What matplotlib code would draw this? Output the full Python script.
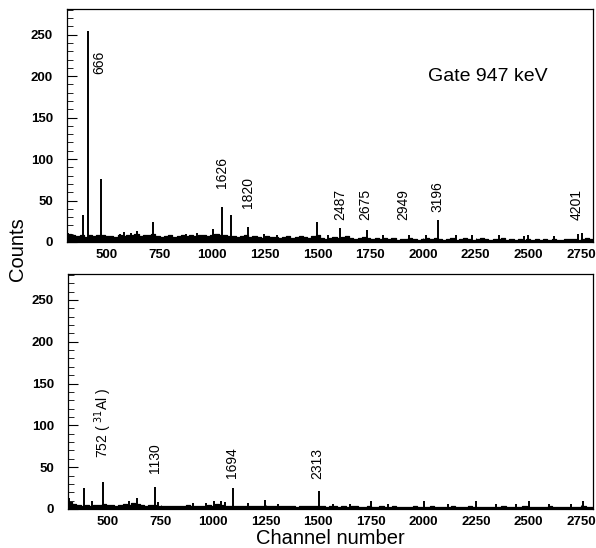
import numpy as np
import matplotlib
matplotlib.use('Agg')
import matplotlib.pyplot as plt
from matplotlib.ticker import MultipleLocator

plt.rcParams['font.family'] = ['Liberation Sans', 'DejaVu Sans']

# Spectrum background, 20-channel bins starting at channel 310
BIN_START = 310
BIN_WIDTH = 20

gate_bkg = [10, 8, 7, 9, 6, 8, 7, 9, 8, 7,
            7, 6, 8, 7, 9, 8, 10, 7, 8, 9,
            10, 7, 6, 7, 8, 6, 7, 8, 7, 8,
            7, 9, 8, 7, 8, 10, 9, 8, 7, 7,
            6, 7, 8, 6, 7, 6, 5, 7, 6, 6,
            5, 6, 7, 5, 6, 7, 6, 5, 7, 8,
            5, 4, 5, 6, 5, 6, 7, 5, 4, 5,
            6, 5, 4, 5, 4, 5, 4, 5, 3, 4,
            4, 5, 4, 3, 4, 5, 4, 5, 4, 3,
            4, 5, 3, 4, 5, 4, 3, 4, 5, 4,
            3, 4, 4, 5, 3, 4, 3, 4, 3, 4,
            3, 4, 3, 4, 3, 4, 3, 3, 4, 4,
            4, 3, 4, 5, 4]

other_bkg = [8, 6, 5, 4, 5, 4, 5, 5, 6, 5,
             5, 4, 5, 6, 5, 7, 6, 5, 4, 5,
             5, 4, 4, 3, 4, 4, 3, 4, 5, 4,
             4, 3, 4, 5, 4, 6, 5, 4, 3, 4,
             4, 3, 3, 4, 3, 4, 3, 3, 4, 3,
             3, 3, 4, 3, 2, 3, 3, 4, 3, 3,
             3, 2, 3, 3, 2, 3, 2, 3, 3, 2,
             2, 3, 2, 2, 3, 2, 2, 3, 2, 2,
             2, 2, 3, 2, 2, 2, 3, 2, 2, 2,
             2, 3, 2, 2, 2, 3, 2, 2, 2, 2,
             2, 2, 2, 3, 2, 2, 2, 2, 3, 2,
             2, 2, 2, 2, 3, 2, 2, 2, 2, 2,
             2, 2, 3, 2, 2]

# Peaks (channel, counts)
gate_peak_ch = [316, 385, 411, 472, 562, 582, 612, 642, 720, 806, 876, 926,
                1003, 1044, 1089, 1171, 1245, 1306, 1495, 1550, 1606, 1733,
                1812, 1933, 2015, 2070, 2155, 2231, 2362, 2480, 2498, 2622,
                2735, 2753]
gate_peak_counts = [11, 32, 254, 76, 10, 12, 11, 13, 24, 9, 10, 11,
                    16, 42, 33, 18, 10, 9, 24, 9, 17, 15,
                    8, 8, 9, 26, 8, 8, 8, 7, 8, 7,
                    10, 11]

other_peak_ch = [316, 388, 422, 475, 600, 636, 723, 738, 905, 966, 1003, 1036,
                 1054, 1092, 1165, 1247, 1306, 1503, 1570, 1650, 1748, 1833,
                 2000, 2115, 2251, 2346, 2438, 2501, 2598, 2700, 2758]
other_peak_counts = [13, 25, 9, 32, 10, 13, 26, 8, 7, 7, 10, 10,
                     8, 25, 7, 11, 6, 21, 6, 6, 10, 6,
                     10, 6, 10, 6, 6, 10, 6, 6, 10]

# Energy labels (text, channel, counts at foot of label)
gate_labels = [('666', 462, 202), ('1626', 1044, 65), ('1820', 1169, 41),
               ('2487', 1606, 26), ('2675', 1728, 26), ('2949', 1905, 26),
               ('3196', 2066, 36), ('4201', 2729, 26)]
other_labels = [('752 ( $^{31}$Al )', 475, 61), ('1130', 723, 43),
                ('1694', 1089, 37), ('2313', 1495, 36)]

x_ticks = [500, 750, 1000, 1250, 1500, 1750, 2000, 2250, 2500, 2750]


def draw_spectrum(ax, bkg, peak_ch, peak_counts, labels):
    edges = BIN_START + BIN_WIDTH * np.arange(len(bkg) + 1)
    vals = np.append(bkg, bkg[-1])
    ax.fill_between(edges, 0, vals, step='post', color='black', lw=0)
    ax.step(edges, vals, where='post', color='black', lw=0.9)
    ax.vlines(peak_ch, 0, peak_counts, color='black', lw=1.4)
    for txt, ch, y in labels:
        ax.text(ch, y, txt, rotation=90, ha='center', va='bottom', fontsize=10)
    ax.set_xlim(310, 2807)
    ax.set_ylim(0, 281)
    ax.set_xticks(x_ticks)
    ax.yaxis.set_major_locator(MultipleLocator(50))
    ax.yaxis.set_minor_locator(MultipleLocator(10))
    ax.tick_params(axis='y', which='major', direction='in', length=7, width=0.8,
                   labelsize=9.5, pad=10)
    ax.tick_params(axis='y', which='minor', direction='in', length=4, width=0.6)
    ax.tick_params(axis='x', which='major', direction='in', length=3, width=0.6,
                   labelsize=9.5, pad=5)
    for lab in ax.get_xticklabels() + ax.get_yticklabels():
        lab.set_fontweight('bold')
    for sp in ax.spines.values():
        sp.set_linewidth(0.9)


fig = plt.figure(figsize=(5.96, 5.48), dpi=100)
ax1 = fig.add_axes([0.1124, 0.5584, 0.8826, 0.4252])
ax2 = fig.add_axes([0.1141, 0.0712, 0.8814, 0.4288])

draw_spectrum(ax1, gate_bkg, gate_peak_ch, gate_peak_counts, gate_labels)
draw_spectrum(ax2, other_bkg, other_peak_ch, other_peak_counts, other_labels)

ax1.text(2023, 194, 'Gate 947 keV', fontsize=14, ha='left', va='baseline')

fig.text(0.03, 0.545, 'Counts', rotation=90, ha='center', va='center', fontsize=14.5)
fig.text(0.555, 0.018, 'Channel number', ha='center', va='center', fontsize=14.5)

fig.savefig('out.png', dpi=100)
